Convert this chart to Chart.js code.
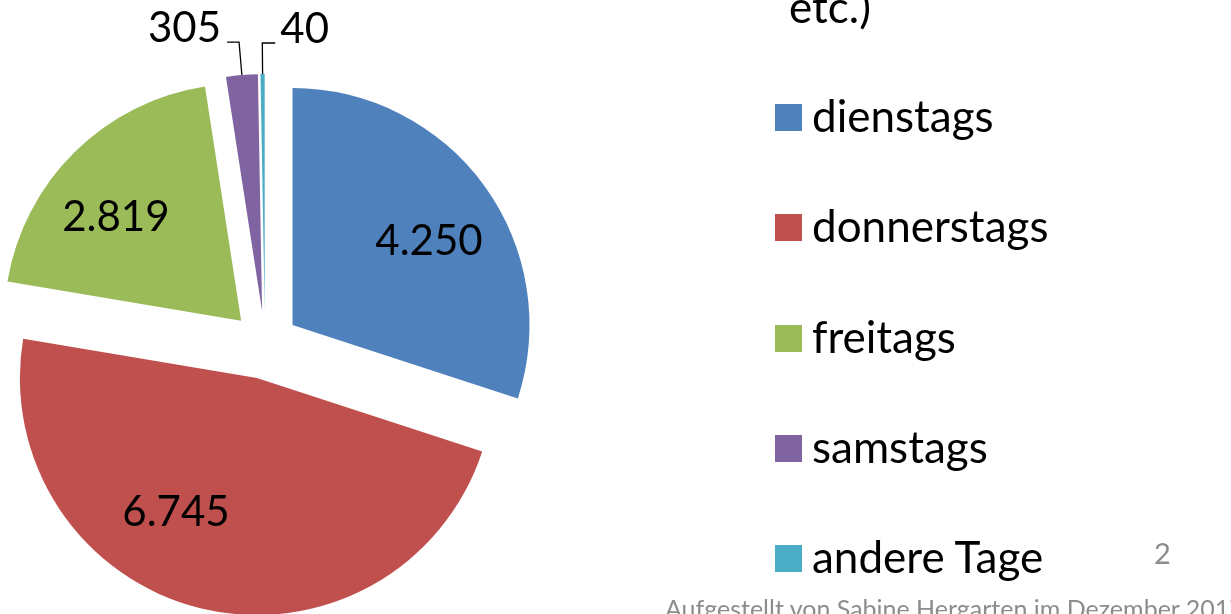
<!DOCTYPE html>
<html><head><meta charset="utf-8">
<script src="https://cdn.jsdelivr.net/npm/chart.js@4.4.1/dist/chart.umd.min.js"></script>
<style>
html,body{margin:0;padding:0;width:1231px;height:614px;overflow:hidden;background:#fff;}
#c{position:absolute;left:0;top:0;}
.t{position:absolute;font-family:Lato,sans-serif;white-space:nowrap;color:#000;margin:0;padding:0;}
.box{position:absolute;width:27px;height:27px;}
</style></head><body>
<canvas id="c" width="1231" height="614"></canvas>
<div id="overlay"></div>
<script>
// ---- data ----
const categories = ['dienstags', 'donnerstags', 'freitags', 'samstags', 'andere Tage'];
const values = [4250, 6745, 2819, 305, 40];
const colors = ['#4F81BD', '#C0504D', '#9BBB59', '#8064A2', '#4BACC6'];
const titleTail = 'etc.)';
const pageNumber = '2';
const footerText = 'Aufgestellt von Sabine Hergarten im Dezember 2017';

// ---- presentation ----
const explodePx = 34;
const pieRadius = 237;
const labelFontPx = 42;
const labelPlacement = [
  {inside: true, frac: 0.678, shift: 4.1},
  {inside: true, frac: 0.657, shift: 17.5},
  {inside: true, frac: 0.689, shift: -5.5},
  {inside: false, ext: 33, side: -1, arm: 12, gap: 6},
  {inside: false, ext: 31, side: 1, arm: 13, gap: 5}
];

function fmtDE(v) {
  return String(v).replace(/\B(?=(\d{3})+(?!\d))/g, '.');
}

const explodePlugin = {
  id: 'explode',
  beforeDatasetDraw(chart, args) {
    const ctx = chart.ctx;
    args.meta.data.forEach((arc) => {
      const mid = (arc.startAngle + arc.endAngle) / 2;
      ctx.save();
      ctx.translate(Math.cos(mid) * explodePx, Math.sin(mid) * explodePx);
      arc.draw(ctx, chart.chartArea);
      ctx.restore();
    });
    return false;
  }
};

const valueLabelPlugin = {
  id: 'valueLabels',
  afterDatasetsDraw(chart) {
    const ctx = chart.ctx;
    const meta = chart.getDatasetMeta(0);
    ctx.save();
    ctx.font = labelFontPx + 'px Lato, sans-serif';
    ctx.fillStyle = '#000';
    ctx.strokeStyle = '#000';
    ctx.lineWidth = 1.3;
    meta.data.forEach((arc, i) => {
      const p = arc.getProps(['x', 'y', 'startAngle', 'endAngle', 'outerRadius'], true);
      const mid = (p.startAngle + p.endAngle) / 2;
      const ax = p.x + Math.cos(mid) * explodePx;
      const ay = p.y + Math.sin(mid) * explodePx;
      const pl = labelPlacement[i];
      const txt = fmtDE(values[i]);
      ctx.textBaseline = 'alphabetic';
      if (pl.inside) {
        const a = mid + pl.shift * Math.PI / 180;
        const r = p.outerRadius * pl.frac;
        const lx = ax + Math.cos(a) * r;
        const ly = ay + Math.sin(a) * r;
        ctx.textAlign = 'center';
        ctx.fillText(txt, lx, ly + 0.36 * labelFontPx);
      } else {
        const ex = ax + Math.cos(mid) * p.outerRadius;
        const ey = ay + Math.sin(mid) * p.outerRadius;
        const bx = ax + Math.cos(mid) * (p.outerRadius + pl.ext);
        const by = ay + Math.sin(mid) * (p.outerRadius + pl.ext);
        const hx = bx + pl.side * pl.arm;
        ctx.beginPath();
        ctx.moveTo(ex, ey);
        ctx.lineTo(bx, by);
        ctx.lineTo(hx, by);
        ctx.stroke();
        ctx.textAlign = pl.side < 0 ? 'right' : 'left';
        ctx.fillText(txt, hx + pl.side * pl.gap, by);
      }
    });
    ctx.restore();
  }
};

function build() {
  new Chart(document.getElementById('c'), {
    type: 'pie',
    data: {
      labels: categories,
      datasets: [{
        data: values,
        backgroundColor: colors,
        borderWidth: 0,
        offset: 0,
        hoverOffset: 0
      }]
    },
    options: {
      responsive: false,
      animation: false,
      events: [],
      radius: pieRadius,
      layout: {padding: {left: 0, right: 701, top: 76, bottom: 0}},
      plugins: {
        legend: {display: false},
        tooltip: {enabled: false}
      }
    },
    plugins: [explodePlugin, valueLabelPlugin]
  });

  // HTML legend / texts, positioned by baseline
  const mctx = document.createElement('canvas').getContext('2d');
  function metrics(size) {
    mctx.font = size + 'px Lato, sans-serif';
    const m = mctx.measureText('Hg');
    return {a: m.fontBoundingBoxAscent, d: m.fontBoundingBoxDescent};
  }
  const overlay = document.getElementById('overlay');
  function addText(txt, size, left, baseline, color) {
    const m = metrics(size);
    const el = document.createElement('div');
    el.className = 't';
    el.textContent = txt;
    el.style.fontSize = size + 'px';
    el.style.lineHeight = (m.a + m.d) + 'px';
    el.style.left = left + 'px';
    el.style.top = (baseline - m.a) + 'px';
    if (color) el.style.color = color;
    overlay.appendChild(el);
  }
  const legFont = 44, legBase = 132, legStep = 110.3;
  categories.forEach((c, i) => {
    const b = legBase + i * legStep;
    const box = document.createElement('div');
    box.className = 'box';
    box.style.background = colors[i];
    box.style.left = '775px';
    box.style.top = (b - 28) + 'px';
    overlay.appendChild(box);
    addText(c, legFont, 812, b);
  });
  addText(titleTail, legFont, 789, 23);
  addText(pageNumber, 29, 1154, 564, '#8c8c8c');
  addText(footerText, 25, 665, 618, '#8c8c8c');
}

if (document.fonts && document.fonts.load) {
  Promise.all([document.fonts.load('42px Lato'), document.fonts.load('24px Lato')]).then(build, build);
} else build();
</script>
</body></html>
